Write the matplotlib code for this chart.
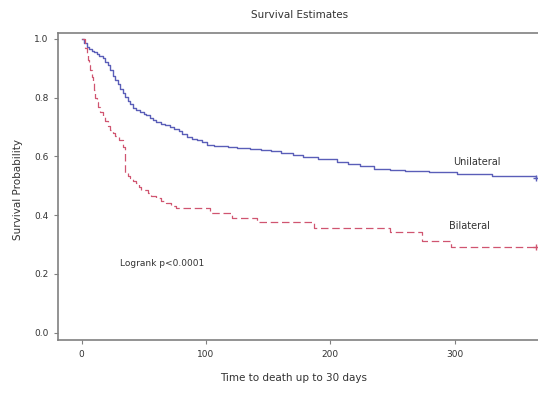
import numpy as np
import matplotlib.pyplot as plt

# Kaplan-Meier step points
uni_t = [0, 2, 4, 6, 8, 10, 12, 14, 17, 19, 21, 23, 25, 27, 29, 31, 33, 35, 37, 39,
         41, 44, 47, 50, 52, 55, 57, 60, 64, 67, 71, 74, 78, 81, 85, 89, 93, 97, 101,
         106, 111, 118, 125, 135, 144, 152, 160, 170, 178, 190, 205, 214, 224, 235,
         248, 260, 279, 302, 330, 365]
uni_s = [1.0, 0.985, 0.972, 0.965, 0.96, 0.955, 0.95, 0.943, 0.935, 0.922, 0.91, 0.893,
         0.875, 0.86, 0.845, 0.83, 0.815, 0.803, 0.79, 0.778, 0.765, 0.757, 0.75, 0.745,
         0.74, 0.732, 0.725, 0.718, 0.712, 0.706, 0.70, 0.693, 0.685, 0.676, 0.667,
         0.661, 0.655, 0.648, 0.64, 0.637, 0.634, 0.631, 0.628, 0.625, 0.622, 0.617,
         0.612, 0.604, 0.598, 0.59, 0.58, 0.574, 0.568, 0.558, 0.555, 0.552, 0.547,
         0.54, 0.535, 0.527]

bil_t = [0, 3, 4, 5, 6, 7, 8, 9, 10, 11, 12, 13, 15, 17, 19, 21, 23, 25, 27, 30, 33,
         35, 37, 39, 41, 44, 46, 48, 53, 56, 60, 64, 68, 72, 76, 103, 121, 141, 187,
         248, 274, 297, 365]
bil_s = [1.0, 0.97, 0.95, 0.93, 0.912, 0.895, 0.87, 0.85, 0.825, 0.80, 0.785, 0.77,
         0.75, 0.735, 0.72, 0.705, 0.69, 0.68, 0.67, 0.656, 0.633, 0.545, 0.535, 0.525,
         0.518, 0.51, 0.495, 0.485, 0.475, 0.466, 0.458, 0.449, 0.44, 0.432, 0.425,
         0.408, 0.39, 0.377, 0.358, 0.343, 0.311, 0.292, 0.292]

xticks = [0, 100, 200, 300]
yticks = [0.0, 0.2, 0.4, 0.6, 0.8, 1.0]

fig = plt.figure(figsize=(5.38, 3.94), dpi=100)
ax = fig.add_axes([0.108, 0.137, 0.892, 0.779])

blue = '#5a5eb8'
red = '#d05570'
ax.step(uni_t, uni_s, where='post', color=blue, lw=1.0)
ax.plot(uni_t[-1], uni_s[-1], marker='+', color=blue, ms=5, mew=1)
ax.step(bil_t, bil_s, where='post', color=red, lw=0.9, dashes=(6, 3))
ax.plot(bil_t[-1], bil_s[-1], marker='+', color=red, ms=5, mew=1)

ax.set_xlim(-19, 367)
ax.set_ylim(-0.025, 1.02)
ax.set_xticks(xticks)
ax.set_xticklabels([str(v) for v in xticks])
ax.set_yticks(yticks)
ax.set_yticklabels([f"{v:.1f}" for v in yticks])

for s in ['left', 'bottom', 'top']:
    ax.spines[s].set_color('#808080')
    ax.spines[s].set_linewidth(1.2)
ax.spines['right'].set_visible(False)
ax.tick_params(direction='out', length=3, width=0.8, color='#808080',
               labelsize=6.5, labelcolor='#333333', pad=4)

ax.text(318, 0.58, 'Unilateral', fontsize=7, color='#333333', ha='center', va='center')
ax.text(312, 0.362, 'Bilateral', fontsize=7, color='#333333', ha='center', va='center')
ax.text(65, 0.236, 'Logrank p<0.0001', fontsize=6.5, color='#333333', ha='center', va='center')

fig.text(0.556, 0.962, 'Survival Estimates', fontsize=7.5, color='#333333', ha='center', va='center')
fig.text(0.546, 0.04, 'Time to death up to 30 days', fontsize=7.5, color='#333333', ha='center', va='center')
fig.text(0.034, 0.52, 'Survival Probability', fontsize=7.5, color='#333333', ha='center', va='center',
         rotation=90)

fig.savefig('out.png', dpi=100)
